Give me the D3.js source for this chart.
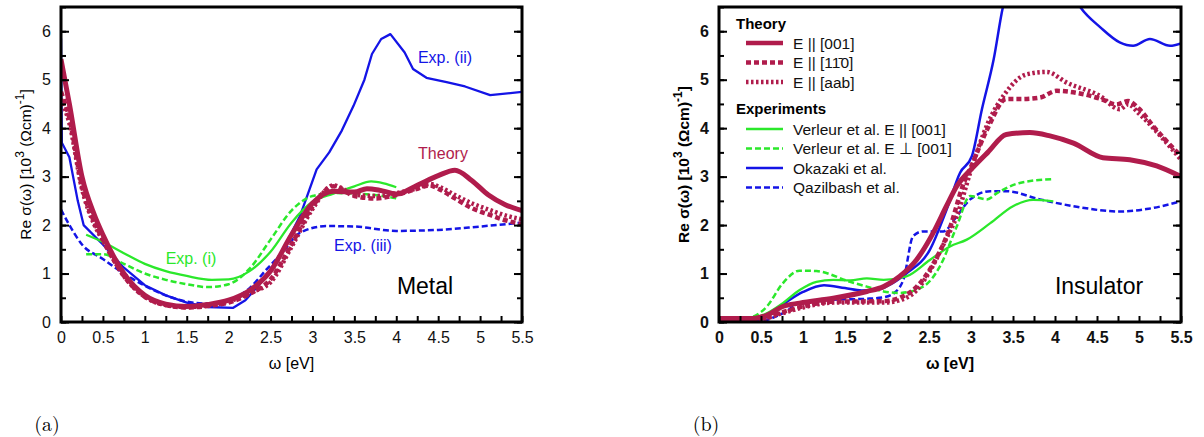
<!DOCTYPE html>
<html>
<head>
<meta charset="utf-8">
<script src="https://cdn.jsdelivr.net/npm/d3@7"></script>
<style>
  body { margin: 0; background: #fff; }
  svg text { font-family: "Liberation Sans", Arial, sans-serif; }
</style>
</head>
<body>
<svg id="chart" width="1204" height="437"></svg>
<script>
// ---- data: [omega (eV), Re sigma (10^3 / Ohm cm)] ----
var xTicks = [0, 0.5, 1, 1.5, 2, 2.5, 3, 3.5, 4, 4.5, 5, 5.5];
var yTicks = [0, 1, 2, 3, 4, 5, 6];

// (a) metal
var metalTheory001 = [[0,5.42],[0.1,4.5],[0.25,3.0],[0.4,2.2],[0.5,1.8],[0.75,1.0],[1,0.55],[1.25,0.37],[1.5,0.32],[1.75,0.36],[2,0.45],[2.25,0.65],[2.5,1.05],[2.75,1.8],[3,2.45],[3.25,2.7],[3.5,2.68],[3.65,2.75],[3.8,2.72],[4,2.64],[4.25,2.82],[4.5,3.02],[4.7,3.13],[4.9,2.92],[5.1,2.62],[5.3,2.42],[5.5,2.3]];
var metalTheory110 = [[0,4.75],[0.1,4.2],[0.25,2.8],[0.4,2.05],[0.5,1.7],[0.75,0.95],[1,0.52],[1.25,0.35],[1.5,0.3],[1.75,0.33],[2,0.4],[2.25,0.58],[2.5,0.88],[2.75,1.6],[3,2.38],[3.25,2.8],[3.5,2.6],[3.75,2.55],[4,2.62],[4.25,2.75],[4.4,2.82],[4.5,2.75],[4.7,2.55],[4.9,2.35],[5.1,2.22],[5.3,2.1],[5.5,2.02]];
var metalTheoryAab = [[0,4.6],[0.1,4.1],[0.25,2.75],[0.4,2.0],[0.5,1.68],[0.75,0.95],[1,0.52],[1.25,0.35],[1.5,0.31],[1.75,0.34],[2,0.42],[2.25,0.6],[2.5,0.82],[2.75,1.55],[3,2.33],[3.25,2.82],[3.5,2.63],[3.75,2.6],[4,2.66],[4.25,2.76],[4.4,2.85],[4.5,2.8],[4.7,2.62],[4.9,2.45],[5.1,2.32],[5.3,2.2],[5.5,2.12]];
var metalExpI = [[0.3,1.8],[0.5,1.65],[0.75,1.42],[1,1.2],[1.25,1.05],[1.5,0.95],[1.8,0.87],[2,0.88],[2.25,1.05],[2.5,1.45],[2.75,2.05],[3,2.48],[3.25,2.65],[3.5,2.8],[3.7,2.9],[3.85,2.86],[4,2.78]];
var metalExpIb = [[0.3,1.4],[0.5,1.4],[0.75,1.2],[1,1.0],[1.25,0.87],[1.5,0.78],[1.75,0.72],[2,0.78],[2.25,1.1],[2.5,1.7],[2.75,2.3],[3,2.6],[3.25,2.66],[3.5,2.65],[3.75,2.62],[4,2.55]];
var metalExpII = [[0,5.85],[0.01,3.7],[0.1,3.4],[0.2,2.5],[0.27,2.0],[0.5,1.6],[0.75,1.12],[1,0.76],[1.25,0.55],[1.5,0.4],[1.75,0.31],[2.05,0.29],[2.2,0.45],[2.45,0.94],[2.65,1.5],[2.85,2.18],[3.05,3.15],[3.2,3.5],[3.35,3.95],[3.49,4.46],[3.62,5.0],[3.71,5.53],[3.82,5.84],[3.93,5.94],[4.1,5.56],[4.2,5.22],[4.36,5.04],[4.6,4.95],[4.82,4.86],[5.12,4.68],[5.5,4.75]];
var metalExpIII = [[0,2.32],[0.1,2.0],[0.25,1.6],[0.5,1.3],[0.75,1.0],[1,0.75],[1.25,0.55],[1.5,0.42],[1.75,0.38],[2,0.45],[2.25,0.7],[2.45,1.08],[2.65,1.45],[2.85,1.84],[3.17,1.98],[3.5,1.97],[4,1.88],[4.5,1.9],[5,1.97],[5.5,2.05]];

// (b) insulator
var insTheory001 = [[0,0.07],[0.4,0.07],[0.57,0.14],[0.76,0.32],[0.96,0.39],[1.36,0.49],[1.76,0.63],[1.96,0.73],[2.15,0.94],[2.35,1.28],[2.55,1.84],[2.71,2.4],[2.83,2.8],[3.03,3.2],[3.2,3.5],[3.42,3.87],[3.7,3.91],[3.94,3.84],[4.22,3.69],[4.57,3.39],[4.89,3.35],[5.21,3.22],[5.5,3.0]];
var insTheory110 = [[0,0.05],[0.5,0.07],[0.75,0.2],[1,0.32],[1.36,0.42],[1.96,0.43],[2.15,0.5],[2.35,0.72],[2.55,1.2],[2.75,1.95],[2.9,2.8],[3,3.2],[3.2,4.0],[3.42,4.6],[3.6,4.6],[3.82,4.63],[4.02,4.77],[4.34,4.7],[4.55,4.6],[4.73,4.49],[4.87,4.56],[5,4.4],[5.17,4.04],[5.5,3.42]];
var insTheoryAab = [[0,0.05],[0.5,0.06],[0.75,0.18],[1,0.3],[1.36,0.4],[1.96,0.4],[2.15,0.45],[2.35,0.65],[2.51,1.05],[2.7,1.7],[2.83,2.18],[2.99,3.08],[3.2,4.1],[3.4,4.7],[3.66,5.11],[3.9,5.16],[4.14,4.94],[4.54,4.66],[4.77,4.39],[4.87,4.49],[5,4.3],[5.25,3.85],[5.5,3.35]];
var verleurPar = [[0.31,0.04],[0.57,0.18],[0.76,0.39],[0.96,0.66],[1.16,0.83],[1.36,0.87],[1.56,0.86],[1.76,0.9],[1.96,0.87],[2.23,0.94],[2.51,1.28],[2.75,1.56],[2.95,1.7],[3.23,2.04],[3.5,2.39],[3.74,2.52],[3.98,2.49]];
var verleurPerp = [[0.31,0.04],[0.57,0.32],[0.76,0.8],[0.96,1.06],[1.16,1.05],[1.56,0.83],[1.76,0.73],[1.96,0.63],[2.15,0.6],[2.43,0.73],[2.63,1.15],[2.83,1.97],[2.99,2.6],[3.19,2.53],[3.31,2.66],[3.58,2.87],[3.98,2.95]];
var okazaki = [[0,0.0],[0.5,0.05],[0.75,0.35],[1,0.62],[1.25,0.76],[1.5,0.7],[1.7,0.65],[1.9,0.67],[2,0.74],[2.23,1.0],[2.51,1.49],[2.71,2.32],[2.87,3.08],[3.01,3.42],[3.13,4.39],[3.27,5.42],[3.38,6.5],[3.55,7.3],[3.8,7.6],[4.05,7.3],[4.3,6.5],[4.54,6.08],[4.77,5.77],[4.93,5.7],[5.13,5.84],[5.37,5.7],[5.5,5.75]];
var qazilbash = [[0,0.0],[0.5,0.0],[0.57,0.04],[0.8,0.22],[0.96,0.39],[1.36,0.46],[1.76,0.48],[1.96,0.51],[2.1,0.62],[2.2,0.9],[2.31,1.77],[2.43,1.87],[2.67,1.87],[2.83,2.18],[2.99,2.53],[3.23,2.7],[3.42,2.7],[3.82,2.53],[4.22,2.39],[4.77,2.28],[5.09,2.33],[5.5,2.49]];

var crimson = "#b01c4c", green = "#2be82b", blue = "#1414e6";

var svg = d3.select("#chart");

function drawPanel(opt) {
    var x = d3.scaleLinear().domain([0, 5.5]).range([opt.left, opt.right]);
    var y = d3.scaleLinear().domain([0, 6.5]).range([opt.bottom, opt.top]);
    var g = svg.append("g");
    var fw = opt.bold ? "bold" : "normal";

    g.append("clipPath").attr("id", opt.id + "-clip")
        .append("rect")
        .attr("x", opt.left).attr("y", opt.top)
        .attr("width", opt.right - opt.left).attr("height", opt.bottom - opt.top);

    var plot = g.append("g").attr("clip-path", "url(#" + opt.id + "-clip)");
    opt.series.forEach(function (s) {
        var line = d3.line()
            .x(function (d) { return x(d[0]); })
            .y(function (d) { return y(d[1]); })
            .curve(s.linear ? d3.curveLinear : d3.curveMonotoneX);
        plot.append("path")
            .datum(s.data)
            .attr("fill", "none")
            .attr("stroke", s.color)
            .attr("stroke-width", s.width)
            .attr("stroke-linejoin", "round")
            .attr("stroke-dasharray", s.dash || null)
            .attr("d", line);
    });

    // ticks (inward)
    var minorX = d3.range(0, 5.51, 0.25);
    var minorY = d3.range(0, 6.51, 0.5);
    function plain(a) { a.select(".domain").remove(); a.selectAll("line").attr("stroke-width", 2); }
    g.append("g").attr("transform", "translate(0," + opt.bottom + ")")
        .call(d3.axisBottom(x).tickValues(minorX).tickSize(-6).tickFormat("")).call(plain);
    var xa = g.append("g").attr("transform", "translate(0," + opt.bottom + ")")
        .call(d3.axisBottom(x).tickValues(xTicks).tickSize(0).tickPadding(10).tickFormat(d3.format("")));
    xa.select(".domain").remove();
    xa.selectAll("text").attr("font-size", 16).attr("font-weight", fw).attr("fill", "#111")
        .style("font-family", "'Liberation Sans', Arial, sans-serif");

    g.append("g").attr("transform", "translate(" + opt.left + ",0)")
        .call(d3.axisLeft(y).tickValues(minorY).tickSize(-5).tickFormat("")).call(plain);
    g.append("g").attr("transform", "translate(" + opt.left + ",0)")
        .call(d3.axisLeft(y).tickValues(yTicks).tickSize(-8).tickFormat("")).call(plain);
    g.append("g").attr("transform", "translate(" + opt.right + ",0)")
        .call(d3.axisRight(y).tickValues(minorY).tickSize(-5).tickFormat("")).call(plain);
    g.append("g").attr("transform", "translate(" + opt.right + ",0)")
        .call(d3.axisRight(y).tickValues(yTicks).tickSize(-8).tickFormat("")).call(plain);
    var ya = g.append("g").attr("transform", "translate(" + opt.left + ",0)")
        .call(d3.axisLeft(y).tickValues(yTicks).tickSize(0).tickPadding(10).tickFormat(d3.format("")));
    ya.select(".domain").remove();
    ya.selectAll("text").attr("font-size", 16).attr("font-weight", fw).attr("fill", "#111")
        .style("font-family", "'Liberation Sans', Arial, sans-serif");

    // frame
    g.append("rect")
        .attr("x", opt.left).attr("y", opt.top)
        .attr("width", opt.right - opt.left).attr("height", opt.bottom - opt.top)
        .attr("fill", "none").attr("stroke", "#000").attr("stroke-width", 3);

    // axis titles
    g.append("text")
        .attr("x", (opt.left + opt.right) / 2).attr("y", 369)
        .attr("text-anchor", "middle").attr("font-size", 16).attr("font-weight", fw)
        .text("\u03c9 [eV]");

    var yt = g.append("text")
        .attr("transform", "translate(" + (opt.left - 30) + "," + ((opt.top + opt.bottom) / 2) + ") rotate(-90)")
        .attr("text-anchor", "middle").attr("font-size", 15.5).attr("font-weight", fw);
    yt.append("tspan").text("Re \u03c3(\u03c9)  [10");
    yt.append("tspan").attr("baseline-shift", "super").attr("font-size", 12).text("3");
    yt.append("tspan").text(" (\u03a9cm)");
    yt.append("tspan").attr("baseline-shift", "super").attr("font-size", 12).text("-1");
    yt.append("tspan").text("]");

    // panel caption
    svg.append("text")
        .attr("x", opt.captionX).attr("y", 431)
        .attr("text-anchor", "middle")
        .style("font-family", "'Latin Modern Roman', 'DejaVu Serif', 'Liberation Serif', serif")
        .attr("font-size", 20)
        .text(opt.caption);

    return { x: x, y: y, g: g };
}

// ---- panel (a) ----
var a = drawPanel({
    id: "a", left: 61, right: 522, top: 7, bottom: 322, bold: false, caption: "(a)", captionX: 47,
    series: [
        { data: metalExpIII, color: blue, width: 2.5, dash: "6,3" },
        { data: metalExpII, color: blue, width: 2.3, linear: true },
        { data: metalExpIb, color: green, width: 2.5, dash: "6,3" },
        { data: metalExpI, color: green, width: 2.3 },
        { data: metalTheoryAab, color: crimson, width: 4.5, dash: "2.5,2.5" },
        { data: metalTheory110, color: crimson, width: 4.5, dash: "5,3" },
        { data: metalTheory001, color: crimson, width: 5 }
    ]
});
a.g.append("text").attr("x", 191).attr("y", 264).attr("text-anchor", "middle")
    .attr("font-size", 16).attr("fill", green).text("Exp. (i)");
a.g.append("text").attr("x", 445).attr("y", 63).attr("text-anchor", "middle")
    .attr("font-size", 16).attr("fill", blue).text("Exp. (ii)");
a.g.append("text").attr("x", 443).attr("y", 159).attr("text-anchor", "middle")
    .attr("font-size", 16).attr("fill", crimson).text("Theory");
a.g.append("text").attr("x", 363).attr("y", 251).attr("text-anchor", "middle")
    .attr("font-size", 16).attr("fill", blue).text("Exp. (iii)");
a.g.append("text").attr("x", 425).attr("y", 294).attr("text-anchor", "middle")
    .attr("font-size", 23).attr("fill", "#000").text("Metal");

// ---- panel (b) ----
var insSeries = [
    { data: qazilbash, color: blue, width: 2.5, dash: "6,3", label: "Qazilbash et al." },
    { data: okazaki, color: blue, width: 2.5, label: "Okazaki et al." },
    { data: verleurPerp, color: green, width: 2.5, dash: "6,3", label: "Verleur et al. E \u22a5 [001]" },
    { data: verleurPar, color: green, width: 2.3, label: "Verleur et al. E ||  [001]" },
    { data: insTheoryAab, color: crimson, width: 4.5, dash: "2.5,2.5", label: "E || [aab]" },
    { data: insTheory110, color: crimson, width: 4.5, dash: "5,3", label: "E || [1\u0031\u03040]" },
    { data: insTheory001, color: crimson, width: 5, label: "E || [001]" }
];
var b = drawPanel({
    id: "b", left: 719, right: 1181, top: 7, bottom: 322, bold: true, caption: "(b)", captionX: 706,
    series: insSeries
});
b.g.append("text").attr("x", 1099).attr("y", 294).attr("text-anchor", "middle")
    .attr("font-size", 23).attr("fill", "#000").text("Insulator");

// legend
var legendGroups = [
    { title: "Theory", titleY: 29, rows: [insSeries[6], insSeries[5], insSeries[4]], rowY: 43 },
    { title: "Experiments", titleY: 114, rows: [insSeries[3], insSeries[2], insSeries[1], insSeries[0]], rowY: 129 }
];
var lg = b.g.append("g");
legendGroups.forEach(function (grp) {
    lg.append("text").attr("x", 736).attr("y", grp.titleY)
        .attr("font-size", 15).attr("font-weight", "bold").text(grp.title);
    grp.rows.forEach(function (s, i) {
        var yy = grp.rowY + i * 19.5;
        lg.append("line")
            .attr("x1", 746).attr("x2", 783).attr("y1", yy).attr("y2", yy)
            .attr("stroke", s.color).attr("stroke-width", s.width > 4 ? 4.5 : 2.5)
            .attr("stroke-dasharray", s.dash || null);
        lg.append("text").attr("x", 793).attr("y", yy + 5.5)
            .attr("font-size", 15.5).attr("fill", "#111").text(s.label);
    });
});
</script>
</body>
</html>
